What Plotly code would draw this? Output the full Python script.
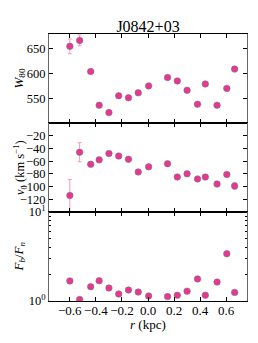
import plotly.graph_objects as go
from plotly.subplots import make_subplots

# ---- data ----
r_kpc = [-0.60, -0.525, -0.44, -0.375, -0.30, -0.225, -0.15, -0.075, 0.005,
         0.15, 0.225, 0.30, 0.38, 0.44, 0.53, 0.605, 0.665]
w80 = [655, 667, 604, 536, 521, 555, 551, 561, 575,
       592, 585, 566, 538, 579, 536, 570, 609]
w80_err = [15, 11, 2, 2, 2, 2, 2, 2, 2, 2, 2, 2, 2, 2, 2, 2, 2]
v0 = [-114, -46, -65, -58, -48, -52, -57, -77, -69,
      -64, -85, -80, -88, -85, -96, -81, -99]
v0_err = [25, 15, 2, 2, 2, 2, 2, 2, 2, 2, 2, 2, 2, 2, 4, 3, 5]
fb_fn = [1.68, 1.04, 1.45, 1.69, 1.40, 1.20, 1.33, 1.26, 1.14,
         1.12, 1.16, 1.29, 1.77, 1.16, 1.63, 3.40, 1.25]

title_text = "J0842+03"
x_ticks = [-0.6, -0.4, -0.2, 0.0, 0.2, 0.4, 0.6]
x_ticktext = ["−0.6", "−0.4", "−0.2", "0.0", "0.2", "0.4", "0.6"]
w80_ticks = [550, 600, 650]
v0_ticks = [-120, -100, -80, -60, -40, -20]
f_ticks = [1, 10]
f_ticktext = ["10<sup>0</sup>", "10<sup>1</sup>"]
f_minor = [2, 3, 4, 5, 6, 7, 8, 9]

PINK = "#ea3594"
ERR = "#f49ac6"
FONT = "Liberation Serif"

# page body has an 8px margin, so the figure is drawn 8px in from the corner
W, H = 242, 327
L, T, PW, PH = 41, 26, 198, 267

fig = make_subplots(rows=3, cols=1, shared_xaxes=True, vertical_spacing=0)

marker = dict(color=PINK, size=6.5, line=dict(color="#777777", width=0.6))

fig.add_trace(go.Scatter(x=r_kpc, y=w80, mode="markers", marker=marker,
                         error_y=dict(type="data", array=w80_err, color=ERR,
                                      thickness=1, width=2)),
              row=1, col=1)
fig.add_trace(go.Scatter(x=r_kpc, y=v0, mode="markers", marker=marker,
                         error_y=dict(type="data", array=v0_err, color=ERR,
                                      thickness=1, width=2)),
              row=2, col=1)
fig.add_trace(go.Scatter(x=r_kpc, y=fb_fn, mode="markers", marker=marker),
              row=3, col=1)

common_x = dict(range=[-0.76, 0.76], tickvals=x_ticks, ticktext=x_ticktext,
                ticks="inside", ticklen=4, tickangle=0, automargin=False,
                tickcolor="black", showline=True, linecolor="black", linewidth=1,
                mirror="ticks", showgrid=False, zeroline=False,
                tickfont=dict(family=FONT, size=13, color="black"))
for i in (1, 2, 3):
    fig.update_xaxes(**common_x, row=i, col=1)
fig.update_xaxes(showticklabels=False, row=1, col=1)
fig.update_xaxes(showticklabels=False, row=2, col=1)
fig.update_xaxes(showticklabels=True, ticklabelstandoff=-3, row=3, col=1)

common_y = dict(ticks="inside", ticklen=4, tickcolor="black", showline=True,
                automargin=False,
                linecolor="#666666", linewidth=1, mirror="ticks", showgrid=False,
                zeroline=False, tickfont=dict(family=FONT, size=12.5, color="black"))
fig.update_yaxes(**common_y, range=[500, 680], tickvals=w80_ticks, row=1, col=1)
fig.update_yaxes(**common_y, range=[-140, 0], tickvals=v0_ticks, row=2, col=1)
fig.update_yaxes(**common_y, type="log", range=[0, 1], tickvals=f_ticks,
                 ticktext=f_ticktext,
                 minor=dict(ticks="inside", ticklen=2, tickcolor="black",
                            tickvals=f_minor, showgrid=False),
                 row=3, col=1)

ann_font = dict(family=FONT, size=13, color="black")
xl = -(L - 0.5) / PW
annotations = [
    dict(text="<i>W</i><sub>80</sub>", x=xl, y=5 / 6, textangle=-90, xanchor="left"),
    dict(text="<i>v</i><sub>0</sub> (km s<sup>−1</sup>)", x=xl, y=0.5, textangle=-90,
         xanchor="left", font=dict(family=FONT, size=12.5, color="black")),
    dict(text="<i>F</i><sub><i>b</i></sub>/<i>F</i><sub><i>n</i></sub>", x=xl, y=1 / 6,
         textangle=-90, xanchor="left"),
    dict(text="<i>r</i> (kpc)", x=0.5, y=-23 / PH, textangle=0, xanchor="center"),
]
for a in annotations:
    a.setdefault("font", ann_font)
    a.update(xref="paper", yref="paper", showarrow=False, yanchor="middle")

fig.update_layout(
    width=W, height=H,
    margin=dict(l=L, r=W - L - PW, t=T, b=H - T - PH, autoexpand=False),
    paper_bgcolor="white", plot_bgcolor="white",
    showlegend=False,
    title=dict(text=title_text, x=0.5, xref="paper", y=1 - 18 / H, yref="container",
               xanchor="center", yanchor="middle",
               font=dict(family=FONT, size=16, color="black")),
    annotations=annotations,
)

fig.write_html("out.html")
